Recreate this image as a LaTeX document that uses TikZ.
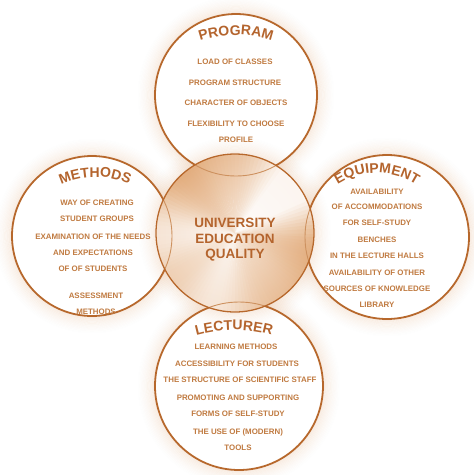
\documentclass[tikz,border=0pt]{standalone}
\usepackage{fontspec}
\setmainfont{Liberation Sans}
\usetikzlibrary{decorations.text,fadings}
\definecolor{linecol}{RGB}{183,104,44}
\definecolor{textcol}{RGB}{192,122,64}
\definecolor{titlecol}{RGB}{180,100,45}
\definecolor{glowcol}{RGB}{222,150,90}
\definecolor{wedgecol}{RGB}{214,135,65}
\definecolor{thincol}{RGB}{205,145,95}
\tikzfading[name=centrefade, inner color=transparent!0, outer color=transparent!100]
\newcommand\ttlfont{\fontsize{14}{14}\selectfont\bfseries\color{titlecol}}
\newcommand\myglow[2]{%
  \foreach \i in {1,...,14}
    {\pgfmathsetmacro\go{0.16*(1-\i/15)^1.5}%
     \draw[glowcol, line width=1.3pt, draw opacity=\go] (#1) circle[radius=#2+\i*1.2];}}
\tikzset{
  body/.style={font=\fontsize{7.9}{8}\selectfont\bfseries, text=textcol, inner sep=0pt},
  outerring/.style={draw=linecol, line width=1.8pt},
  innerring/.style={draw=thincol, line width=0.9pt},
  centerring/.style={draw=linecol, line width=1.3pt},
  ttl/.style={decorate, decoration={text along path, text align=center, text={|\ttlfont|#1}}}
}
\begin{document}
\begin{tikzpicture}[x=1pt,y=-1pt]
\useasboundingbox (0,0) rectangle (474,475);
\fill[white] (0,0) rectangle (474,475);
\coordinate (cP) at (236,95);
\coordinate (cM) at (92,236);
\coordinate (cE) at (387,237);
\coordinate (cL) at (239,386);
\coordinate (cC) at (235,233);
% glows of outer circles
\myglow{cP}{81}
\myglow{cM}{80}
\myglow{cE}{82}
\myglow{cL}{84}
% white interiors
\fill[white] (cP) circle[radius=81];
\fill[white] (cM) circle[radius=80];
\fill[white] (cE) circle[radius=82];
\fill[white] (cL) circle[radius=84];
% glow of centre circle
\myglow{cC}{79}
% outer rings
\draw[outerring] (cP) circle[radius=81];
\draw[outerring] (cM) circle[radius=80];
\draw[outerring] (cE) circle[radius=82];
\draw[outerring] (cL) circle[radius=84];
% centre circle with conic-like shading
\begin{scope}
\clip (cC) circle[radius=79];
\foreach \a in {0,3,...,357}{
  \pgfmathsetmacro\p{max(8,min(75,40+22*cos(2*(\a-45))+14*cos(3*(\a-135))+8*cos(5*\a)))}
  \fill[wedgecol!\p!white] (cC) -- ++(\a:85) arc[start angle=\a, end angle=\a+3.6, radius=85] -- cycle;
}
\fill[white, path fading=centrefade, fill opacity=0.6] (cC) circle[radius=79];
\draw[innerring] (cP) circle[radius=81];
\draw[innerring] (cM) circle[radius=80];
\draw[innerring] (cE) circle[radius=82];
\draw[innerring] (cL) circle[radius=84];
\end{scope}
\draw[centerring] (cC) circle[radius=79];
% titles along arcs
\path[ttl={PROGRAM}] (236,147) ++(235:112) arc[start angle=235, end angle=305, radius=112];
\path[ttl={METHODS}] (95,257) ++(235:80) arc[start angle=235, end angle=305, radius=80];
\path[ttl={EQUIPMENT}] (377,245) ++(220:72) arc[start angle=220, end angle=320, radius=72];
\path[ttl={LECTURER}] (234,470) ++(245:140) arc[start angle=245, end angle=295, radius=140];
% centre text
\node[font=\fontsize{13.5}{15.5}\selectfont\bfseries, text=titlecol, align=center, inner sep=0pt] (uq) at (235,240) {UNIVERSITY\\EDUCATION\\QUALITY};
% program
\node[body] (p1) at (235,62) {LOAD OF CLASSES};
\node[body] (p2) at (235,83) {PROGRAM STRUCTURE};
\node[body] (p3) at (236,103) {CHARACTER OF OBJECTS};
\node[body] (p4) at (236,124) {FLEXIBILITY TO CHOOSE};
\node[body] (p5) at (236,140) {PROFILE};
% methods
\node[body] (m1) at (97,203) {WAY OF CREATING};
\node[body] (m2) at (97,219) {STUDENT GROUPS};
\node[body] (m3) at (93,237) {EXAMINATION OF THE NEEDS};
\node[body] (m4) at (93,253) {AND EXPECTATIONS};
\node[body] (m5) at (93,269) {OF OF STUDENTS};
\node[body] (m6) at (96,296) {ASSESSMENT};
\node[body] (m7) at (96,312) {METHODS};
% equipment
\node[body] (e1) at (377,192) {AVAILABILITY};
\node[body] (e2) at (377,207) {OF ACCOMMODATIONS};
\node[body] (e3) at (377,223) {FOR SELF-STUDY};
\node[body] (e4) at (377,240) {BENCHES};
\node[body] (e5) at (377,256) {IN THE LECTURE HALLS};
\node[body] (e6) at (377,273) {AVAILABILITY OF OTHER};
\node[body] (e7) at (377,289) {SOURCES OF KNOWLEDGE};
\node[body] (e8) at (377,305) {LIBRARY};
% lecturer
\node[body] (l1) at (236,347) {LEARNING METHODS};
\node[body] (l2) at (237,364) {ACCESSIBILITY FOR STUDENTS};
\node[body] (l3) at (240,380) {THE STRUCTURE OF SCIENTIFIC STAFF};
\node[body] (l4) at (238,398) {PROMOTING AND SUPPORTING};
\node[body] (l5) at (238,414) {FORMS OF SELF-STUDY};
\node[body] (l6) at (238,432) {THE USE OF (MODERN)};
\node[body] (l7) at (238,448) {TOOLS};
\end{tikzpicture}
\end{document}
